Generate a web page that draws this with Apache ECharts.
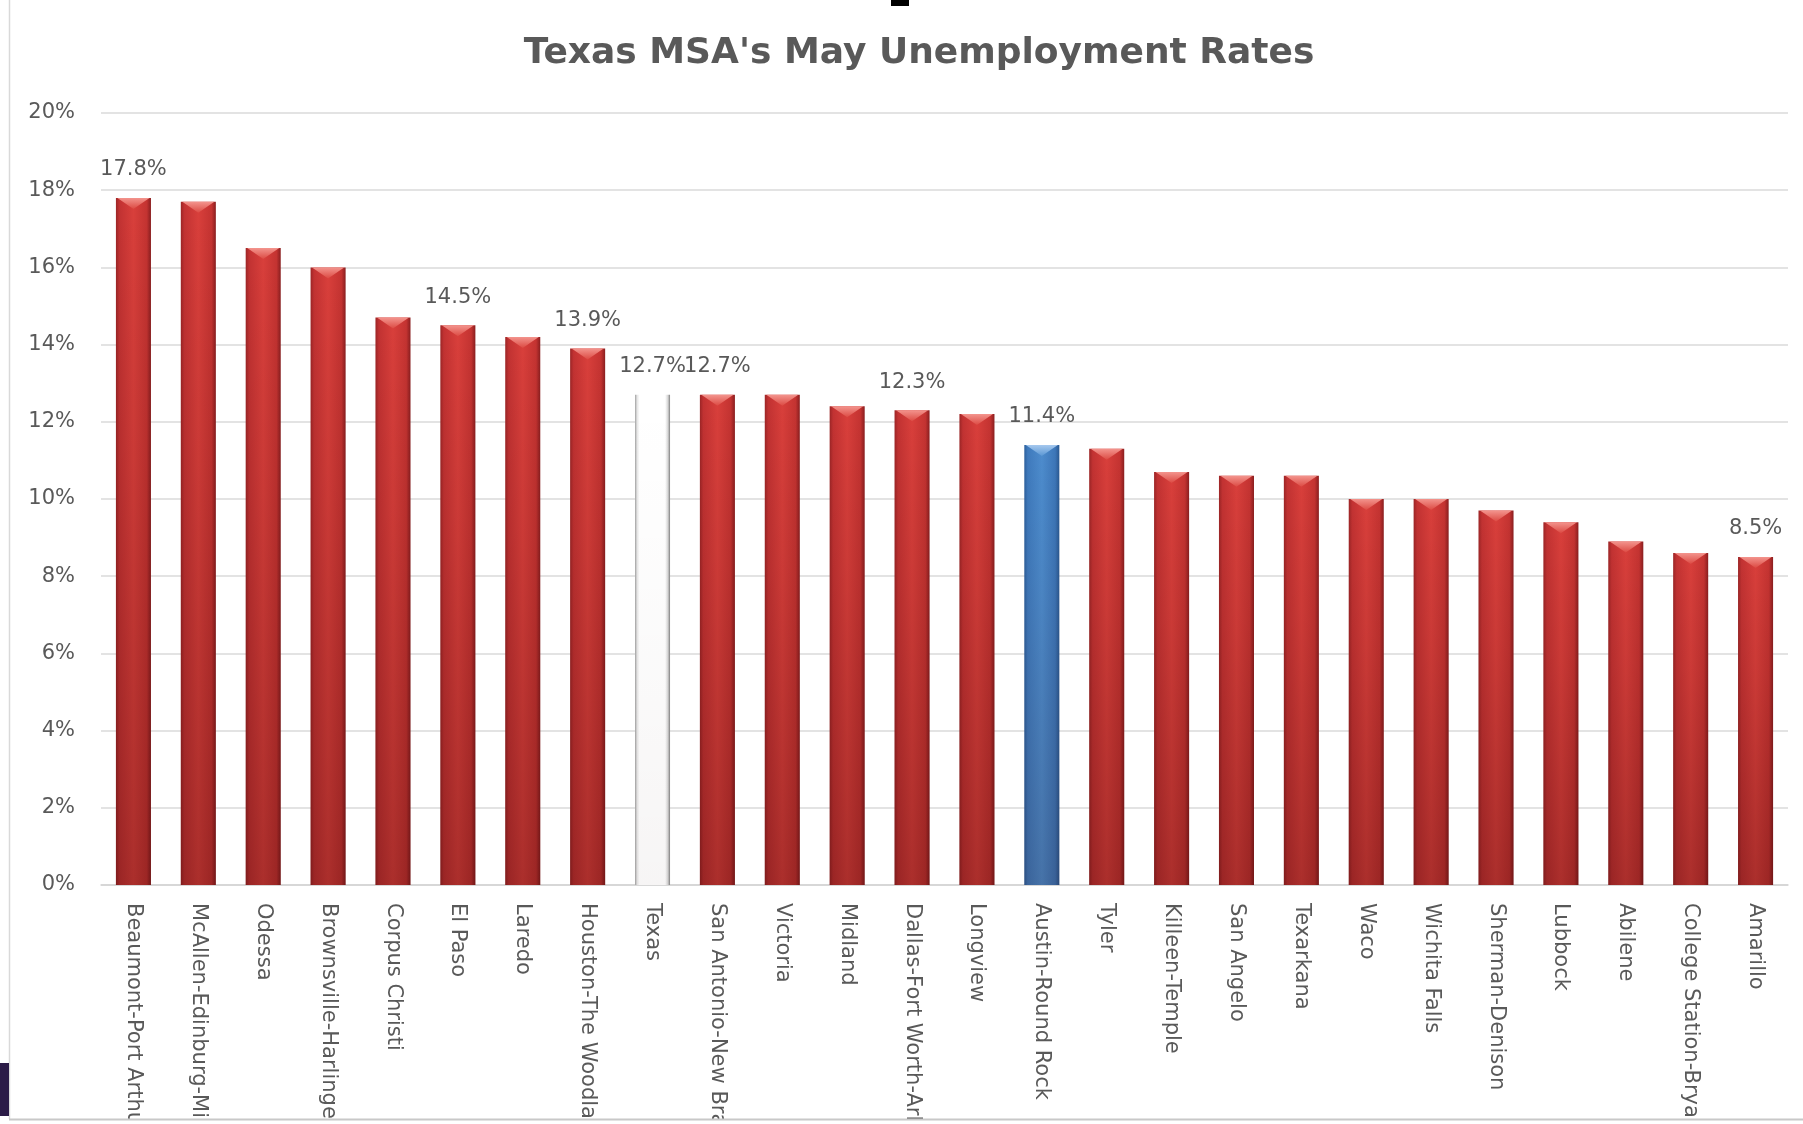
<!DOCTYPE html>
<html>
<head>
<meta charset="utf-8">
<title>Texas MSA's May Unemployment Rates</title>
<script src="https://cdn.jsdelivr.net/npm/echarts@6/dist/echarts.min.js"></script>
<style>
  html, body { margin: 0; padding: 0; background: #ffffff; }
  #chart { width: 1803px; height: 1124px; }
</style>
</head>
<body>
<div id="chart"></div>
<script>
// Metro areas, ranked by May unemployment rate (%)
const areas = [
  'Beaumont-Port Arthur', 'McAllen-Edinburg-Mission', 'Odessa', 'Brownsville-Harlingen',
  'Corpus Christi', 'El Paso', 'Laredo', 'Houston-The Woodlands-Sugar Land', 'Texas',
  'San Antonio-New Braunfels', 'Victoria', 'Midland', 'Dallas-Fort Worth-Arlington',
  'Longview', 'Austin-Round Rock', 'Tyler', 'Killeen-Temple', 'San Angelo', 'Texarkana',
  'Waco', 'Wichita Falls', 'Sherman-Denison', 'Lubbock', 'Abilene',
  'College Station-Bryan', 'Amarillo'
];
const rates = [
  17.8, 17.7, 16.5, 16.0,
  14.7, 14.5, 14.2, 13.9, 12.7,
  12.7, 12.7, 12.4, 12.3,
  12.2, 11.4, 11.3, 10.7, 10.6, 10.6,
  10.0, 10.0, 9.7, 9.4, 8.9,
  8.6, 8.5
];
// Areas whose rate is printed above the bar
const labelledAreas = [
  'Beaumont-Port Arthur', 'El Paso', 'Houston-The Woodlands-Sugar Land', 'Texas',
  'San Antonio-New Braunfels', 'Dallas-Fort Worth-Arlington', 'Austin-Round Rock', 'Amarillo'
];
const stateTotal = 'Texas';
const homeArea = 'Austin-Round Rock';
const yTicks = [0, 20, 2]; // min, max, step

const TEXT_GREY = '#595959';
const FONT = '"DejaVu Sans", "Open Sans", sans-serif';

function hGrad(stops) {
  return new echarts.graphic.LinearGradient(0, 0, 1, 0,
    stops.map(s => ({ offset: s[0], color: s[1] })));
}
function vGrad(stops) {
  return new echarts.graphic.LinearGradient(0, 0, 0, 1,
    stops.map(s => ({ offset: s[0], color: s[1] })));
}

const palettes = {
  red: {
    body: [[0, '#9c2526'], [0.1, '#c23232'], [0.5, '#d93f3b'], [0.88, '#c43331'], [1, '#8a1e1f']],
    bevel: [[0, '#f3948d'], [1, '#dc4a43']],
    shade: 0.26
  },
  blue: {
    body: [[0, '#2c5f9c'], [0.1, '#3f7abd'], [0.5, '#4d8ccd'], [0.88, '#3d76b8'], [1, '#2a5890']],
    bevel: [[0, '#a6c8ee'], [1, '#5a97d4']],
    shade: 0.18
  },
  white: {
    body: [[0, '#a0a0a0'], [0.06, '#e6e6e6'], [0.13, '#ffffff'], [0.86, '#ffffff'], [0.94, '#d5d5d5'], [1, '#808080']],
    bevel: null,
    shade: 0.04
  }
};

function paletteFor(name) {
  if (name === stateTotal) return palettes.white;
  if (name === homeArea) return palettes.blue;
  return palettes.red;
}

const chart = echarts.init(document.getElementById('chart'), null, { renderer: 'canvas' });

chart.setOption({
  backgroundColor: '#ffffff',
  animation: false,
  title: {
    text: "Texas MSA's May Unemployment Rates",
    left: 914,
    top: 31,
    textAlign: 'center',
    textStyle: { fontFamily: FONT, fontSize: 36, fontWeight: 'bold', color: TEXT_GREY }
  },
  grid: { left: 101, right: 15, top: 113, bottom: 239, containLabel: false, outerBoundsMode: 'none' },
  xAxis: {
    type: 'category',
    data: areas,
    axisTick: { show: false },
    axisLine: { lineStyle: { color: '#d4d4d4', width: 1.5 } },
    axisLabel: {
      interval: 0,
      rotate: -90,
      margin: 18,
      color: TEXT_GREY,
      fontFamily: FONT,
      fontSize: 21
    }
  },
  yAxis: {
    type: 'value',
    min: yTicks[0],
    max: yTicks[1],
    interval: yTicks[2],
    axisLine: { show: false },
    axisTick: { show: false },
    splitLine: { lineStyle: { color: '#dadada', width: 1.5 } },
    axisLabel: {
      margin: 26,
      color: TEXT_GREY,
      fontFamily: FONT,
      fontSize: 21,
      formatter: v => v + '%'
    }
  },
  series: [{
    type: 'custom',
    data: rates.map((v, i) => [i, v]),
    encode: { x: 0, y: 1 },
    renderItem: function (params, api) {
      const idx = api.value(0);
      const val = api.value(1);
      const name = areas[idx];
      const top = api.coord([idx, val]);
      const base = api.coord([idx, 0]);
      const band = api.size([1, 0])[0];
      const w = band * 0.54;
      const x = top[0] - w / 2;
      const y = top[1];
      const h = base[1] - top[1];
      const pal = paletteFor(name);
      const children = [
        { type: 'rect', shape: { x: x, y: y, width: w, height: h }, style: { fill: hGrad(pal.body) } },
        {
          type: 'rect', shape: { x: x, y: y, width: w, height: h },
          style: { fill: vGrad([[0, 'rgba(0,0,0,0)'], [0.35, 'rgba(40,0,0,' + (pal.shade * 0.3) + ')'], [1, 'rgba(40,0,0,' + pal.shade + ')']]) }
        }
      ];
      if (pal.bevel) {
        children.push({
          type: 'polygon',
          shape: { points: [[x + 1.5, y], [x + w - 1.5, y], [x + w / 2, y + 11]] },
          style: { fill: vGrad(pal.bevel) }
        });
      }
      if (labelledAreas.indexOf(name) >= 0) {
        children.push({
          type: 'text',
          x: top[0],
          y: y - 28,
          style: {
            text: val.toFixed(1) + '%',
            fill: TEXT_GREY,
            font: '21px ' + FONT,
            align: 'center',
            verticalAlign: 'middle'
          }
        });
      }
      return { type: 'group', children: children };
    }
  }],
  graphic: [
    // frame edges of the chart panel
    { type: 'line', z: 100, shape: { x1: 9.5, y1: 0, x2: 9.5, y2: 1120 }, style: { stroke: '#d9d9d9', lineWidth: 1.5 } },
    { type: 'rect', z: 100, shape: { x: 0, y: 1119, width: 1803, height: 5 }, style: { fill: '#ffffff' } },
    { type: 'line', z: 101, shape: { x1: 9, y1: 1119.5, x2: 1803, y2: 1119.5 }, style: { stroke: '#c8c8c8', lineWidth: 2 } },
    // slide background peeking in at the corners
    { type: 'rect', z: 101, shape: { x: 0, y: 1063, width: 9, height: 53 }, style: { fill: '#2b1b47' } },
    { type: 'rect', z: 101, shape: { x: 891, y: 0, width: 18, height: 6 }, style: { fill: '#000000' } }
  ]
});
</script>
</body>
</html>
